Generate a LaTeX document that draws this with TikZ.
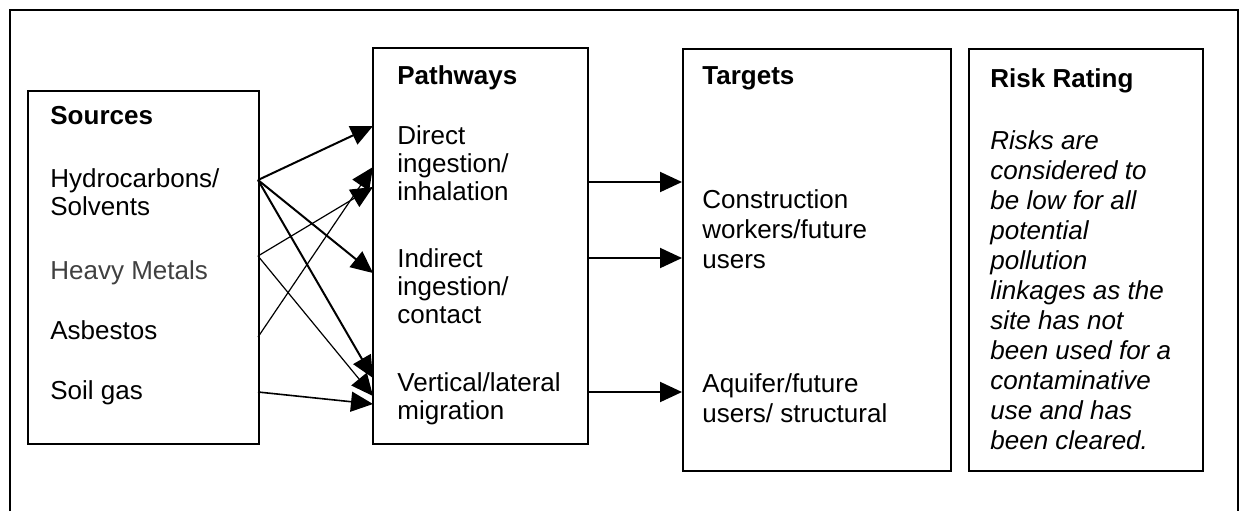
\documentclass[tikz,border=0pt]{standalone}
\usepackage{fontspec}
\setmainfont{Liberation Sans}
\usetikzlibrary{arrows.meta}

\tikzset{
  box/.style={draw, line width=0.9pt, anchor=north west, inner sep=0pt},
  item/.style={anchor=north west, inner sep=0pt, align=left, font=\fontsize{13}{14}\selectfont},
  wide/.style={item, font=\fontsize{13}{15}\selectfont},
  heading/.style={item, font=\fontsize{13}{14}\selectfont\bfseries},
  link/.style={-{Triangle[length=11pt,width=10pt]}, line width=1pt},
  faint/.style={link, line width=0.6pt}
}

\begin{document}
\begin{tikzpicture}[x=0.5pt,y=-0.5pt]
        \useasboundingbox (0,0) rectangle (1242,511);
        % outer frame, open at the bottom
        \draw[line width=0.9pt] (10,511) -- (10,10) -- (1238,10) -- (1238,511);

        % the four boxes
        \node[box, minimum width=115.5pt, minimum height=176.5pt] (src) at (27,90) {};
        \node[box, minimum width=107.5pt, minimum height=198pt] (path) at (372,47) {};
        \node[box, minimum width=134pt, minimum height=211pt] (tar) at (682,48) {};
        \node[box, minimum width=117pt, minimum height=211pt] (risk) at (968,48) {};

        % sources
        \node[heading] (srchead) at (50,106) {Sources};
        \node[item] (hydro) at (50,168) {Hydrocarbons/\\Solvents};
        \node[item, text=black!75] (metals) at (50,260) {Heavy Metals};
        \node[item] (asbestos) at (50,320) {Asbestos};
        \node[item] (soilgas) at (50,380) {Soil gas};

        % pathways
        \node[heading] (pathhead) at (397,65) {Pathways};
        \node[item] (direct) at (397,125) {Direct\\ingestion/\\inhalation};
        \node[item] (indirect) at (397,248) {Indirect\\ingestion/\\contact};
        \node[item] (vertical) at (397,372) {Vertical/lateral\\migration};

        % targets
        \node[heading] (tarhead) at (702,66) {Targets};
        \node[wide] (workers) at (702,189) {Construction\\workers/future\\users};
        \node[wide] (aquifer) at (702,373) {Aquifer/future\\users/ structural};

        % risk rating
        \node[heading] (riskhead) at (990,68) {Risk Rating};
        \node[wide, font=\fontsize{13}{15}\selectfont\itshape] (verdict) at (990,130)
            {Risks are\\considered to\\be low for all\\potential\\pollution\\linkages as the\\site has not\\been used for a\\contaminative\\use and has\\been cleared.};

        % ends of the links on the box edges
        \coordinate (hydroOut) at (258,180);
        \coordinate (metalsOut) at (258,256);
        \coordinate (asbestosOut) at (258,337);
        \coordinate (soilOut) at (258,392);
        \coordinate (directA) at (373,126);
        \coordinate (directB) at (373,167);
        \coordinate (directC) at (373,187);
        \coordinate (indirectA) at (373,273);
        \coordinate (verticalA) at (373,378);
        \coordinate (verticalB) at (373,396);
        \coordinate (verticalC) at (373,404);

        % sources to pathways
        \foreach \a/\b in {hydroOut/directA, hydroOut/indirectA, hydroOut/verticalA}
                \draw[link] (\a) -- (\b);
        \foreach \a/\b in {metalsOut/directC, metalsOut/verticalB, asbestosOut/directB}
                \draw[faint] (\a) -- (\b);
        \draw[link, line width=0.8pt] (soilOut) -- (verticalC);

        % pathways to targets
        \foreach \y in {182,258,392}
                \draw[link] (path.east |- 0,\y) -- (tar.west |- 0,\y);
\end{tikzpicture}
\end{document}
